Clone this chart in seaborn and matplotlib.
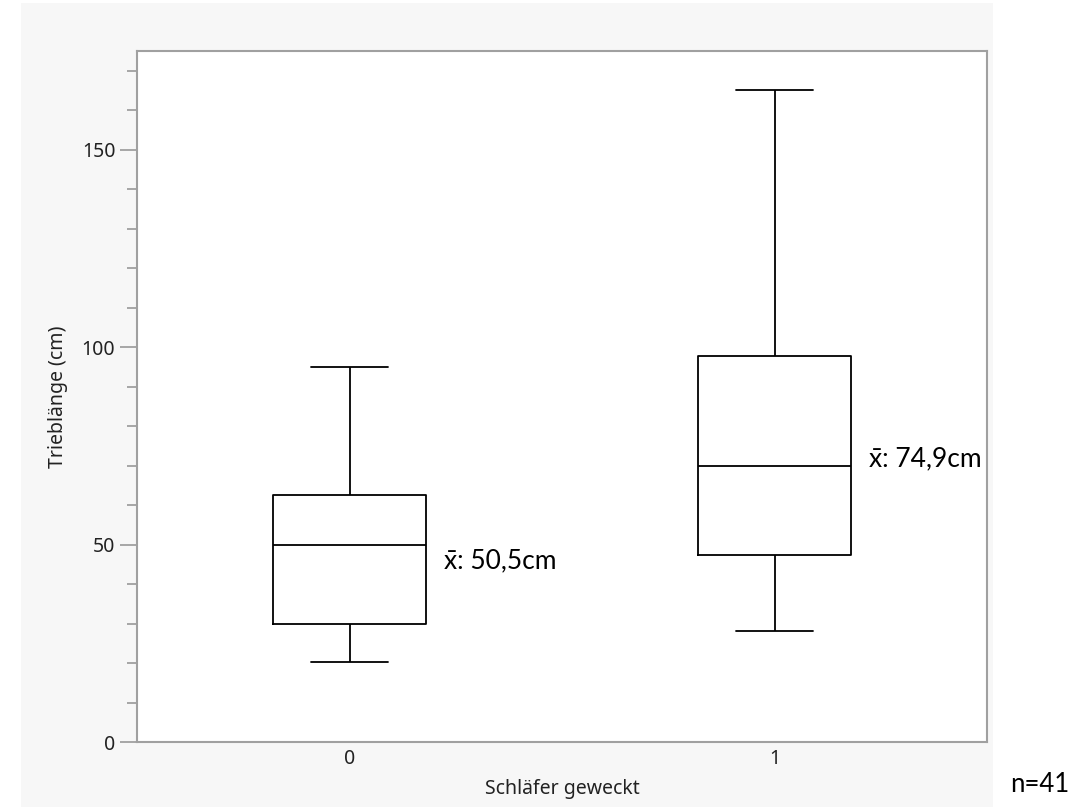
import numpy as np
import pandas as pd
import seaborn as sns
import matplotlib.pyplot as plt
from matplotlib.patches import Rectangle

# Five-number summaries (min, Q1, median, Q3, max)
groups = ["0", "1"]
group0_values = [20.3, 29.9, 49.9, 62.6, 95.0]
group1_values = [28.1, 47.4, 69.9, 97.8, 165.2]
mean_labels = ["x̄: 50,5cm", "x̄: 74,9cm"]
mean_label_y = [46.0, 71.8]
y_major_ticks = [0, 50, 100, 150]
n_label = "n=41"

df = pd.DataFrame({
    "Schläfer geweckt": [groups[0]] * len(group0_values) + [groups[1]] * len(group1_values),
    "Trieblänge (cm)": group0_values + group1_values,
})

sns.set_style("white")
plt.rcParams['font.family'] = ['Noto Sans', 'DejaVu Sans']

fig = plt.figure(figsize=(10.76, 8.07), dpi=100, facecolor="white")
# gray panel background
fig.patches.append(Rectangle((21 / 1076, 0), (993 - 21) / 1076, (807 - 3) / 807,
                             transform=fig.transFigure, facecolor="#f7f7f7",
                             edgecolor="none", zorder=-10))

ax = fig.add_axes([137 / 1076, (807 - 742) / 807, 850 / 1076, (742 - 51) / 807])
ax.set_zorder(5)
ax.set_facecolor("white")

sns.boxplot(data=df, x="Schläfer geweckt", y="Trieblänge (cm)", order=groups,
            whis=np.inf, width=0.358, fill=False, color="black", linewidth=1.3,
            linecolor="black", showcaps=True, ax=ax)

ax.set_xlim(-0.5, 1.5)
ax.set_ylim(0, 175)
ax.set_yticks(y_major_ticks)
ax.set_yticks(np.arange(10, 175, 10), minor=True)

for s in ax.spines.values():
    s.set_color("#a0a0a0")
    s.set_linewidth(1.5)
    s.set_visible(True)

ax.tick_params(axis="y", which="major", length=12, width=1.3, color="#a0a0a0",
               labelsize=14, labelcolor="#222222", pad=3.6, left=True)
ax.tick_params(axis="y", which="minor", length=7, width=1.3, color="#a0a0a0", left=True)
ax.tick_params(axis="x", length=0, labelsize=14, labelcolor="#222222", pad=5)

ax.set_xlabel("Schläfer geweckt", fontsize=14, color="#222222", labelpad=7)
ax.set_ylabel("Trieblänge (cm)", fontsize=14, color="#222222", labelpad=10)

for i, (lbl, yy) in enumerate(zip(mean_labels, mean_label_y)):
    ax.text(i + 0.222, yy, lbl, fontsize=19, color="black", ha="left", va="center",
            family=['Lato', 'DejaVu Sans'])

fig.text(1010 / 1076, 1 - 785 / 807, n_label, fontsize=18.5, color="black",
         ha="left", va="center", family=['Lato', 'DejaVu Sans'])

fig.savefig("out.png", dpi=100, facecolor="white")
